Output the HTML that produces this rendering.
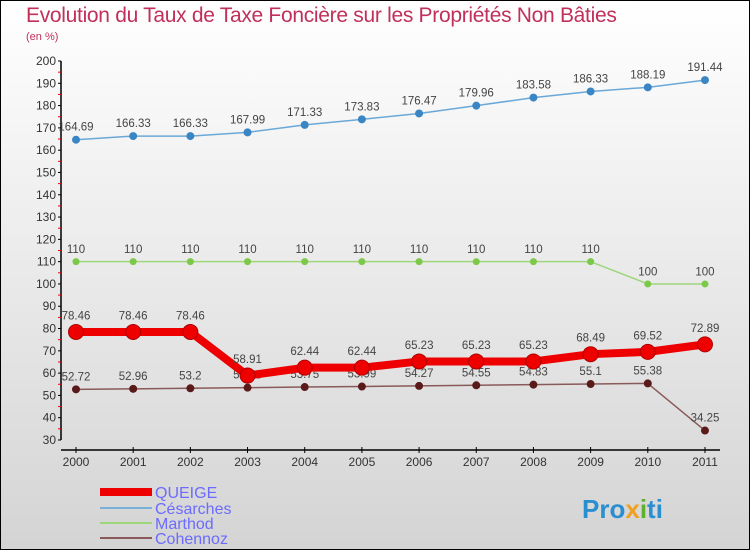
<!DOCTYPE html>
<html><head><meta charset="utf-8"><style>
html,body{margin:0;padding:0}
body{width:750px;height:550px;overflow:hidden;font-family:"Liberation Sans",sans-serif}
#c{position:absolute;left:0;top:0;width:748px;height:548px;border:1px solid #000;background:linear-gradient(#ffffff,#d4d4d4)}
</style></head><body>
<div id="c">
<svg id="s" width="750" height="550" style="position:absolute;left:-1px;top:-1px">
<text x="26" y="22" font-size="21" font-weight="300" letter-spacing="-0.3" fill="#c0305a">Evolution du Taux de Taxe Foncière sur les Propriétés Non Bâties</text>
<text x="26" y="40" font-size="11" fill="#c0305a">(en %)</text>
<g id="axes"></g><g id="series"></g>
<g id="legend">
<rect x="100" y="488" width="52" height="8" fill="#ee0000"/>
<text x="155" y="498" font-size="16" fill="#6b6bff">QUEIGE</text>
<line x1="100" y1="508" x2="152" y2="508" stroke="#7ab0d8" stroke-width="2"/>
<text x="155" y="514" font-size="16" fill="#6b6bff">Césarches</text>
<line x1="100" y1="523" x2="152" y2="523" stroke="#9ed67a" stroke-width="2"/>
<text x="155" y="529" font-size="16" fill="#6b6bff">Marthod</text>
<line x1="100" y1="538" x2="152" y2="538" stroke="#8a5a5a" stroke-width="2"/>
<text x="155" y="544" font-size="16" fill="#6b6bff">Cohennoz</text>
</g>
<text x="582" y="518" font-size="26" font-weight="bold" fill="#2a8fd0">Pro<tspan fill="#f0a020">x</tspan><tspan fill="#60b030">i</tspan>ti</text>
</svg></div>
<script>
const years=[2000,2001,2002,2003,2004,2005,2006,2007,2008,2009,2010,2011];
const yTicks=[30,40,50,60,70,80,90,100,110,120,130,140,150,160,170,180,190,200];
const queige=[78.46,78.46,78.46,58.91,62.44,62.44,65.23,65.23,65.23,68.49,69.52,72.89];
const cesarches=[164.69,166.33,166.33,167.99,171.33,173.83,176.47,179.96,183.58,186.33,188.19,191.44];
const marthod=[110,110,110,110,110,110,110,110,110,110,100,100];
const cohennoz=[52.72,52.96,53.2,53.48,53.75,53.99,54.27,54.55,54.83,55.1,55.38,34.25];
const NS="http://www.w3.org/2000/svg";
const X=i=>76+i*57.18;
const Y=v=>61+(200-v)*(379/170);
function mk(t,a,p){const e=document.createElementNS(NS,t);for(const k in a)e.setAttribute(k,a[k]);p.appendChild(e);return e;}
const ax=document.getElementById('axes');
let l=mk('line',{x1:61,y1:Y(200),x2:61,y2:Y(30),stroke:'#000','stroke-width':1.5},ax);


yTicks.forEach(v=>{
 mk('line',{x1:58,y1:Y(v),x2:61,y2:Y(v),stroke:'#000'},ax);
 if(v<200)mk('line',{x1:58,y1:Y(v+5),x2:61,y2:Y(v+5),stroke:'#e00'},ax);
 const t=mk('text',{x:56,y:Y(v)+4,'font-size':12,'text-anchor':'end',fill:'#333'},ax);t.textContent=v;
 
 
});
l=mk('line',{x1:61,y1:450,x2:720,y2:450,stroke:'#000','stroke-width':1.5},ax);


years.forEach((y,i)=>{
 mk('line',{x1:X(i),y1:447,x2:X(i),y2:453,stroke:'#000'},ax);
 const t=mk('text',{x:X(i),y:466,'font-size':12,'text-anchor':'middle',fill:'#333'},ax);t.textContent=y;
 
 
});
const sg=document.getElementById('series');
function series(vals,name,col,dot,w,r,stk){
 const g=mk('g',{},sg);
 
 
 const p=mk('polyline',{points:vals.map((v,i)=>X(i)+','+Y(v)).join(' '),fill:'none',stroke:col,'stroke-width':w,'stroke-linejoin':'round'},g);
 
 
 vals.forEach((v,i)=>{
  const c=mk('circle',{cx:X(i),cy:Y(v),r:r,fill:dot,stroke:stk||'none','stroke-width':1},g);
  
  
  const t=mk('text',{x:X(i),y:Y(v)-(r+5),'font-size':11.5,'text-anchor':'middle',fill:'#444'},g);t.textContent=v;
  
  
 });
}
series(cesarches,'cesarches','#6aa8d8','#3a86c4',1.5,4);
series(marthod,'marthod','#9ed67a','#7cc94a',1.5,3.5);
series(cohennoz,'cohennoz','#8a5a5a','#5a1a1a',1.5,4);
series(queige,'queige','#ee0000','#ee0000',8,7.5,'#b00000');
</script>
</body></html>
